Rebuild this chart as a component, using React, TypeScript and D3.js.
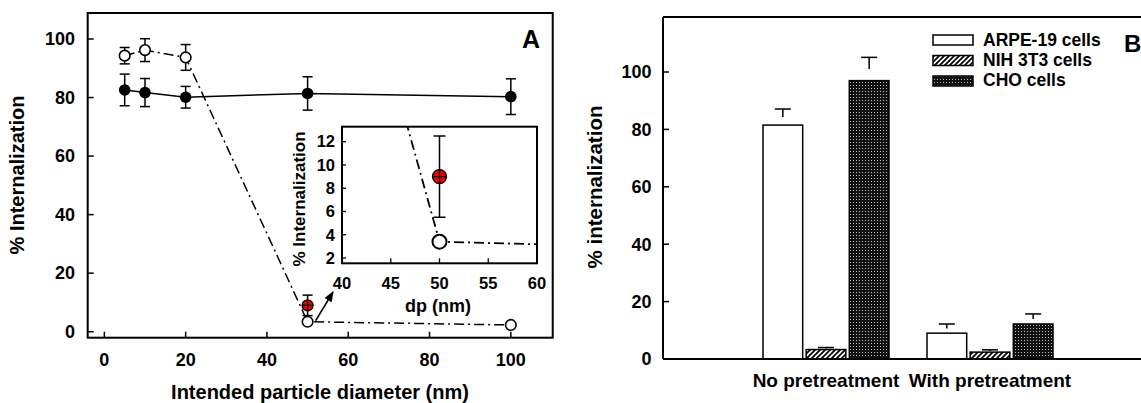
import React from "react";
import * as d3 from "d3";

// ---------- Panel A data ----------
const sizesA = [5, 10, 20, 50, 100];
const filledMean = [82.6, 81.7, 80.1, 81.4, 80.3];
const filledErr = [5.4, 4.8, 3.7, 5.7, 6.1];
const openMean = [94.3, 96.2, 93.7, 3.4, 2.3];
const openErr = [2.8, 3.9, 4.4, 0, 0];
const redX = [50];
const redMean = [9.0];
const redErr = [3.5];
const xTicksA = [0, 20, 40, 60, 80, 100];
const yTicksA = [0, 20, 40, 60, 80, 100];
const insetXTicks = [40, 45, 50, 55, 60];
const insetYTicks = [2, 4, 6, 8, 10, 12];

// ---------- Panel B data ----------
const categoriesB = ["No pretreatment", "With pretreatment"];
const seriesB = ["ARPE-19 cells", "NIH 3T3 cells", "CHO cells"];
const arpeVals = [81.5, 9.0];
const arpeErr = [5.6, 3.2];
const nihVals = [3.3, 2.4];
const nihErr = [0.7, 0.8];
const choVals = [97.0, 12.2];
const choErr = [8.1, 3.5];
const yTicksB = [0, 20, 40, 60, 80, 100];

const FONT = "'Liberation Sans', Arial, Helvetica, sans-serif";

export default function App() {
  // Panel A scales
  const xA = d3.scaleLinear().domain([-4.1, 110.3]).range([87.7, 552.7]);
  const yA = d3.scaleLinear().domain([0, 100]).range([331.7, 39]);
  const aTop = 13, aBottom = 337.7, aLeft = 87.7, aRight = 552.7;

  // Inset scales
  const xI = d3.scaleLinear().domain([40, 60]).range([342, 537]);
  const yI = d3.scaleLinear().domain([2, 12]).range([258, 141.7]);
  const iTop = 126.7, iBottom = 263.3, iLeft = 342, iRight = 537;

  // Panel B scales
  const xB = d3.scalePoint<string>().domain(categoriesB).range([826, 990]);
  const subB = d3.scaleBand<string>().domain(seriesB).range([-63, 63]).paddingInner(0.08);
  const yB = d3.scaleLinear().domain([0, 100]).range([359, 72]);
  const bTop = 17, bBottom = 359, bLeft = 663, bRight = 1141;

  const filledLine = d3.line<number>().x((_, i) => xA(sizesA[i])).y((d) => yA(d));
  const openLine = d3.line<number>().x((_, i) => xA(sizesA[i])).y((d) => yA(d));
  const openLineInset = d3.line<number>().x((_, i) => xI(sizesA[i])).y((d) => yI(d));

  const seriesVals = [arpeVals, nihVals, choVals];
  const seriesErrs = [arpeErr, nihErr, choErr];
  const fills = ["#ffffff", "url(#hatch)", "url(#dots)"];

  const dashDot = "10,4,2,4";

  const errBar = (cx: number, y1: number, y2: number, hw: number, key: string, up = true, down = true, sw = 1.5) => (
    <g key={key} stroke="#000" strokeWidth={sw}>
      <line x1={cx} x2={cx} y1={up ? y1 : (y1 + y2) / 2} y2={down ? y2 : (y1 + y2) / 2} />
      {up && <line x1={cx - hw} x2={cx + hw} y1={y1} y2={y1} />}
      {down && <line x1={cx - hw} x2={cx + hw} y1={y2} y2={y2} />}
    </g>
  );

  const redMarker = (cx: number, cy: number, r: number, key: string) => (
    <g key={key}>
      <circle cx={cx} cy={cy} r={r} fill="#ee0000" stroke="#000" strokeWidth={1.3} />
      <line x1={cx - r} x2={cx + r} y1={cy} y2={cy} stroke="#000" strokeWidth={1.3} />
      <line x1={cx} x2={cx} y1={cy - r} y2={cy + r} stroke="#000" strokeWidth={1.3} />
    </g>
  );

  return (
    <div style={{ position: "absolute", left: 0, top: 0 }}>
      <svg width={1141} height={403} style={{ display: "block", background: "#fff" }} fontFamily={FONT}>
        <defs>
          <pattern id="hatch" width={5} height={5} patternUnits="userSpaceOnUse">
            <rect width={5} height={5} fill="#fff" />
            <path d="M-1,1 l2,-2 M0,5 l5,-5 M4,6 l2,-2" stroke="#000" strokeWidth={1.8} />
          </pattern>
          <pattern id="dots" width={3} height={3} patternUnits="userSpaceOnUse">
            <rect width={3} height={3} fill="#111" />
            <rect x={1} y={1} width={1} height={1} fill="#bbb" />
          </pattern>
          <marker id="arrow" viewBox="0 0 10 10" refX={9} refY={5} markerWidth={7} markerHeight={7} orient="auto">
            <path d="M0,1 L10,5 L0,9 z" fill="#000" />
          </marker>
          <clipPath id="insetClip">
            <rect x={iLeft} y={iTop} width={iRight - iLeft} height={iBottom - iTop} />
          </clipPath>
        </defs>

        {/* ================= Panel A ================= */}
        <rect x={aLeft} y={aTop} width={aRight - aLeft} height={aBottom - aTop} fill="none" stroke="#000" strokeWidth={2} />
        {xTicksA.map((t) => (
          <g key={"xa" + t}>
            <line x1={xA(t)} x2={xA(t)} y1={aBottom} y2={aBottom - 6} stroke="#000" strokeWidth={1.5} />
            <text x={xA(t)} y={365.5} textAnchor="middle" fontSize={18} fontWeight="bold">{t}</text>
          </g>
        ))}
        {yTicksA.map((t) => (
          <g key={"ya" + t}>
            <line x1={aLeft} x2={aLeft + 6} y1={yA(t)} y2={yA(t)} stroke="#000" strokeWidth={1.5} />
            <text x={75} y={yA(t)} dy="0.35em" textAnchor="end" fontSize={18} fontWeight="bold">{t}</text>
          </g>
        ))}
        <text x={320} y={399} textAnchor="middle" fontSize={20} fontWeight="bold">Intended particle diameter (nm)</text>
        <text transform={`translate(17,175) rotate(-90)`} dy="0.35em" textAnchor="middle" fontSize={20} fontWeight="bold">% Internalization</text>
        <text x={531} y={48} textAnchor="middle" fontSize={25} fontWeight="bold">A</text>

        {/* lines */}
        <path d={filledLine(filledMean) || ""} fill="none" stroke="#000" strokeWidth={1.5} />
        <path d={openLine(openMean) || ""} fill="none" stroke="#000" strokeWidth={1.5} strokeDasharray={dashDot} />

        {/* error bars */}
        {sizesA.map((s, i) => errBar(xA(s), yA(filledMean[i] + filledErr[i]), yA(filledMean[i] - filledErr[i]), 5, "fe" + i))}
        {sizesA.map((s, i) => openErr[i] > 0 ? errBar(xA(s), yA(openMean[i] + openErr[i]), yA(openMean[i] - openErr[i]), 5, "oe" + i) : null)}
        {redX.map((s, i) => errBar(xA(s), yA(redMean[i] + redErr[i]), yA(redMean[i] - redErr[i]), 5, "re" + i))}

        {/* markers */}
        {sizesA.map((s, i) => (
          <circle key={"fm" + i} cx={xA(s)} cy={yA(filledMean[i])} r={5.8} fill="#000" />
        ))}
        {redX.map((s, i) => redMarker(xA(s), yA(redMean[i]), 5.5, "rm" + i))}
        {sizesA.map((s, i) => (
          <circle key={"om" + i} cx={xA(s)} cy={yA(openMean[i])} r={5.3} fill="#fff" stroke="#000" strokeWidth={1.6} />
        ))}

        {/* arrow to inset */}
        <line x1={xA(50) + 8} y1={yA(openMean[3]) - 1} x2={333} y2={292} stroke="#000" strokeWidth={1.5} markerEnd="url(#arrow)" />

        {/* ================= Inset ================= */}
        <rect x={iLeft} y={iTop} width={iRight - iLeft} height={iBottom - iTop} fill="#fff" stroke="#000" strokeWidth={2} />
        {insetXTicks.map((t) => (
          <g key={"xi" + t}>
            {t > 40 && t < 60 && <line x1={xI(t)} x2={xI(t)} y1={iBottom} y2={iBottom - 5} stroke="#000" strokeWidth={1.3} />}
            <text x={xI(t)} y={288.5} textAnchor="middle" fontSize={16.5} fontWeight="bold">{t}</text>
          </g>
        ))}
        {insetYTicks.map((t) => (
          <g key={"yi" + t}>
            <line x1={iLeft} x2={iLeft + 4} y1={yI(t)} y2={yI(t)} stroke="#000" strokeWidth={1.3} />
            <text x={335} y={yI(t)} dy="0.35em" textAnchor="end" fontSize={16.5} fontWeight="bold">{t}</text>
          </g>
        ))}
        <text x={438} y={312} textAnchor="middle" fontSize={18} fontWeight="bold">dp (nm)</text>
        <text transform={`translate(299,199) rotate(-90)`} dy="0.35em" textAnchor="middle" fontSize={17} fontWeight="bold">% Internalization</text>
        <g clipPath="url(#insetClip)">
          <path d={openLineInset(openMean) || ""} fill="none" stroke="#000" strokeWidth={1.8} strokeDasharray={dashDot} />
          {redX.map((s, i) => errBar(xI(s), yI(redMean[i] + redErr[i]), yI(redMean[i] - redErr[i]), 6, "rie" + i))}
          {redX.map((s, i) => redMarker(xI(s), yI(redMean[i]), 7, "rim" + i))}
          {sizesA.map((s, i) => (
            <circle key={"oim" + i} cx={xI(s)} cy={yI(openMean[i])} r={7} fill="#fff" stroke="#000" strokeWidth={2} />
          ))}
        </g>

        {/* ================= Panel B ================= */}
        <line x1={bLeft} x2={bRight} y1={bTop} y2={bTop} stroke="#000" strokeWidth={2} />
        <line x1={bLeft} x2={bLeft} y1={bTop} y2={bBottom} stroke="#000" strokeWidth={2} />
        {yTicksB.map((t) => (
          <g key={"yb" + t}>
            <line x1={bLeft} x2={bLeft + 6} y1={yB(t)} y2={yB(t)} stroke="#000" strokeWidth={1.5} />
            <text x={651.5} y={yB(t)} dy="0.35em" textAnchor="end" fontSize={18} fontWeight="bold">{t}</text>
          </g>
        ))}
        <text transform={`translate(595,187) rotate(-90)`} dy="0.35em" textAnchor="middle" fontSize={20.5} fontWeight="bold">% internalization</text>

        {/* bars */}
        {seriesB.map((s, si) =>
          categoriesB.map((c, ci) => {
            const x0 = (xB(c) as number) + (subB(s) as number);
            const w = subB.bandwidth();
            const v = seriesVals[si][ci];
            const e = seriesErrs[si][ci];
            return (
              <g key={s + c}>
                {errBar(x0 + w / 2, yB(v + e), yB(v), 8, "be" + s + c, true, false)}
                <rect x={x0} y={yB(v)} width={w} height={yB(0) - yB(v)} fill={fills[si]} stroke="#000" strokeWidth={1.5} />
              </g>
            );
          })
        )}
        <line x1={bLeft} x2={bRight} y1={bBottom} y2={bBottom} stroke="#000" strokeWidth={2} />
        {categoriesB.map((c) => (
          <text key={c} x={xB(c) as number} y={386.5} textAnchor="middle" fontSize={19} fontWeight="bold">{c}</text>
        ))}

        {/* legend */}
        {seriesB.map((s, i) => (
          <g key={"lg" + s}>
            <rect x={933} y={35 + i * 20.5} width={40} height={10} fill={fills[i]} stroke="#000" strokeWidth={1.5} />
            <text x={983} y={46 + i * 20} fontSize={17.5} fontWeight="bold">{s}</text>
          </g>
        ))}
        <text x={1124} y={52} fontSize={24} fontWeight="bold">B</text>
      </svg>
    </div>
  );
}
